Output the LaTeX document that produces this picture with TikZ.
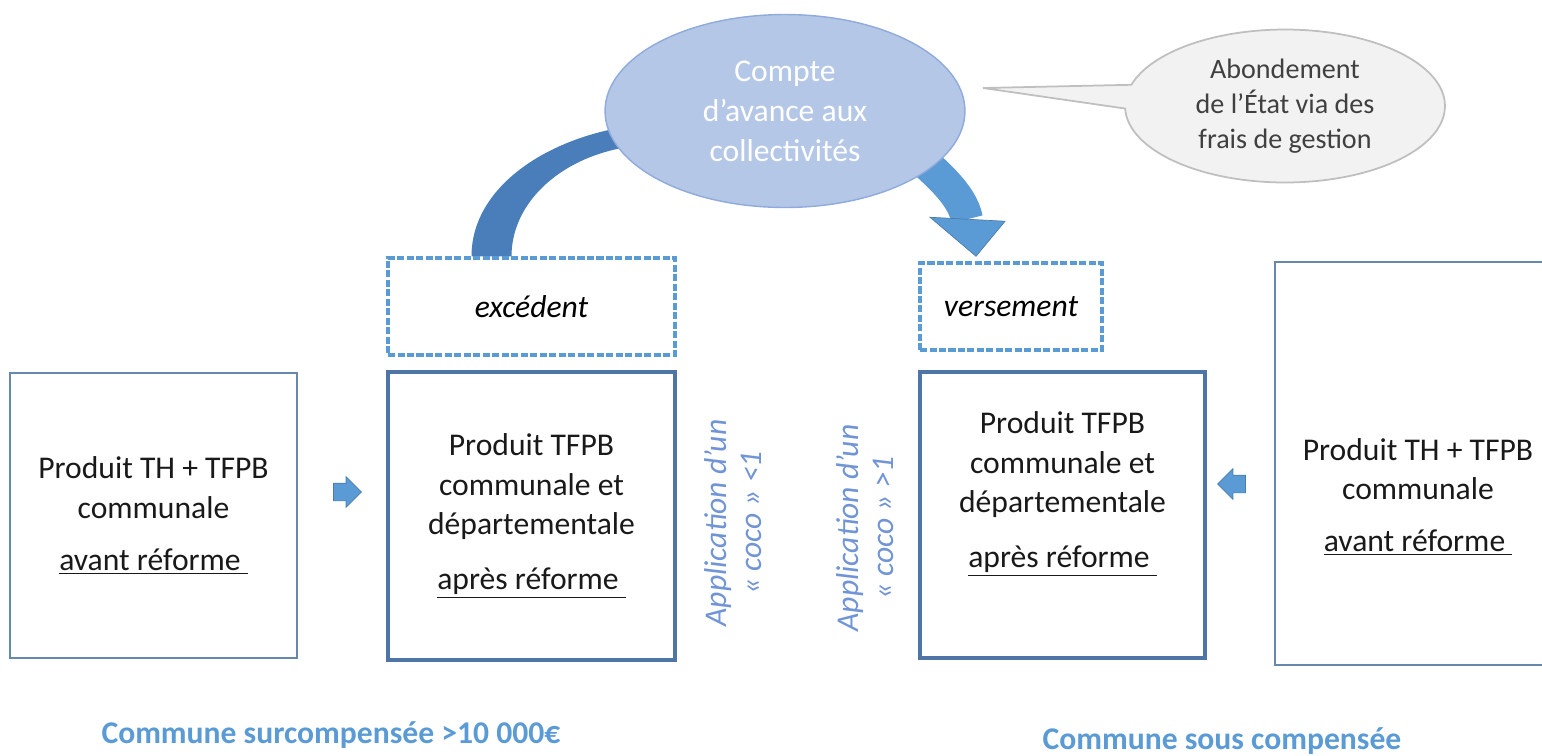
\documentclass[tikz,border=0pt]{standalone}
\usepackage{fontspec}
\setmainfont{Carlito}
\usetikzlibrary{positioning,arrows.meta,calc,shapes.geometric,shapes.callouts,shapes.arrows,backgrounds}
\definecolor{boxblue}{HTML}{6688AD}
\definecolor{boxdark}{HTML}{4F74A6}
\definecolor{dashblue}{HTML}{5B9BD5}
\definecolor{bandblue}{HTML}{4A7EBB}
\definecolor{ellfill}{HTML}{B4C7E7}
\definecolor{ellline}{HTML}{8FAADC}
\definecolor{txtblue}{HTML}{7094D6}
\definecolor{grayfill}{HTML}{F2F2F2}
\definecolor{grayline}{HTML}{BFBFBF}
\definecolor{graytext}{HTML}{404040}
\tikzset{t/.style={draw=boxblue,line width=1.2pt,align=center,text=black!90,font=\fontsize{18}{22.5}\selectfont},
         T/.style={t,draw=boxdark,line width=2.4pt},
         d/.style={draw=dashblue,line width=2pt,dash pattern=on 4pt off 1.4pt,font=\fontsize{18}{22}\selectfont\itshape},
         v/.style={rotate=90,align=center,text=txtblue,font=\fontsize{18}{20}\selectfont\itshape},
         p/.style={single arrow,fill=dashblue,draw=dashblue!80!black,line width=0.4pt,minimum height=0.56cm,inner xsep=0pt,inner ysep=0.17cm,single arrow head extend=0.13cm},
         c/.style={text=dashblue,font=\bfseries\fontsize{18}{22}\selectfont}}

\begin{document}
\begin{tikzpicture}[x=0.02cm,y=0.02cm]
\clip (0,0) rectangle (1542,-755);
% boxes on the left
\node[t,minimum width=5.74cm,minimum height=5.7cm] at (153.5,-515.5)(l1){Produit TH + TFPB\\communale\\[0.25cm]\underline{avant réforme\hspace{4pt}}};
\node[T,minimum width=5.74cm,minimum height=5.76cm] at (531.5,-516)(l2){Produit TFPB\\communale et\\départementale\\[0.3cm]\underline{après réforme\hspace{4pt}}};
\node[d,minimum width=5.74cm,minimum height=1.94cm] at (531.5,-306.5)(exc){excédent};
\node[p] at (343,-492)(pr){};
% boxes on the right
\node[T,minimum width=5.7cm,minimum height=5.72cm] at (1062.5,-515)(r2){};
\node[t,draw=none,below=0.7cm of r2.north](r2txt){Produit TFPB\\communale et\\départementale\\[0.3cm]\underline{après réforme\hspace{4pt}}};
\node[t,minimum width=5.7cm,minimum height=8.06cm] at (1417.5,-463.5)(r1){};
\node[t,draw=none] at (1418,-497)(r1txt){Produit TH + TFPB\\communale\\[0.25cm]\underline{avant réforme\hspace{4pt}}};
\node[d,minimum width=3.64cm,minimum height=1.74cm] at (1011,-306.5)(vers){versement};
\node[p,shape border rotate=180] at (1236,-484)(pl){};
% coefficients
\node[v] at (733,-523)(coco1){Application d’un\\« coco » <1};
\node[v] at (865,-528)(coco2){Application d’un\\« coco » >1};
% the account and the callout
\node[ellipse,fill=ellfill,draw=ellline,line width=0.8pt,minimum width=7.2cm,minimum height=3.86cm,inner sep=1pt,text=white,align=center,font=\fontsize{18}{22.8}\selectfont] at (785,-111)(compte){Compte\\d’avance aux\\collectivités};
\node[ellipse callout,fill=grayfill,draw=grayline,line width=1pt,minimum width=6.4cm,minimum height=3.06cm,inner sep=0pt,callout absolute pointer={(983,-88)},callout pointer arc=18,text=graytext,align=center,font=\fontsize{16}{20}\selectfont] at (1285,-106)(abond){Abondement\\de l’État via des\\frais de gestion};
% flows to and from the account
\begin{scope}[on background layer]
\fill[bandblue] ($(exc.north)+(-60,0)$) .. controls ($(exc.north)+(-60,68)$) and ($(compte.west)+(-60,-29)$) .. ($(compte.west)+(20,-16)$)
   -- ($(compte.west)+(23,-36)$) .. controls ($(compte.west)+(-45,-47)$) and ($(exc.north)+(-20,53)$) .. ($(exc.north)+(-20,0)$) -- cycle;
\draw[dashblue,line width=0.64cm] ($(compte.center)+(118,-32)$) .. controls ($(compte.center)+(150,-61)$) and ($(vers.north)+(-49,68)$) .. ($(vers.north)+(-44,42)$);
\fill[dashblue,draw=dashblue!80!black,line width=0.4pt] ($(vers.north)+(-81,44)$) -- ($(vers.north)+(-6,40)$) -- ($(vers.north)+(-35,5)$) -- cycle;
\end{scope}
% captions
\node[c] at (331,-735)(sur){Commune surcompensée >10 000€};
\node[c] at (1222,-741)(sous){Commune sous compensée};
\end{tikzpicture}
\end{document}
